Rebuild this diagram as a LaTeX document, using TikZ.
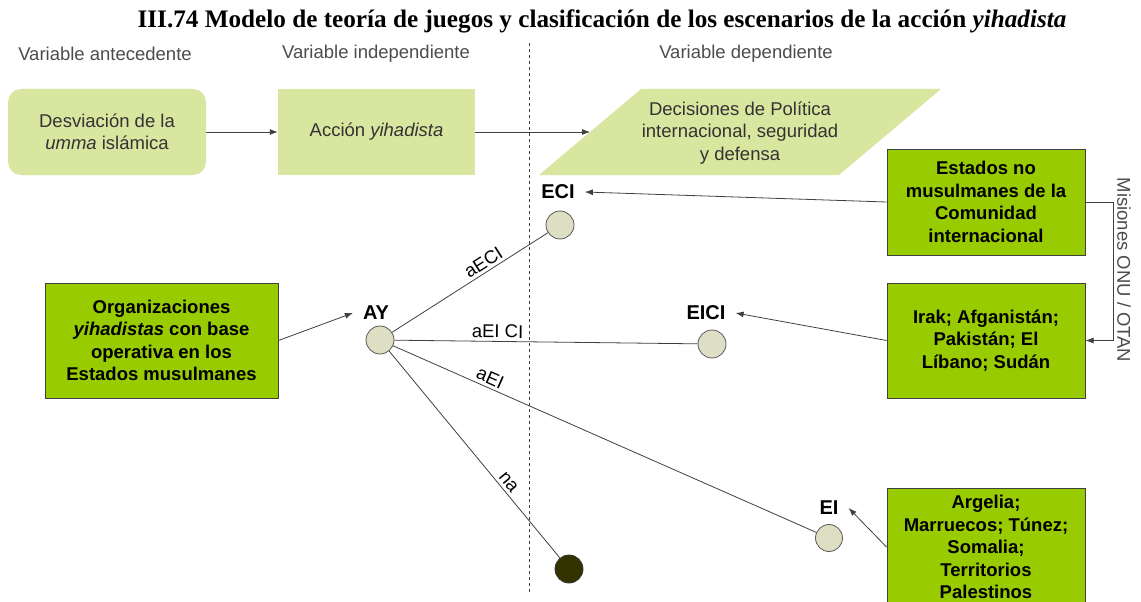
\documentclass[tikz,border=0pt]{standalone}
\usepackage{fontspec}
\setmainfont{Liberation Sans}
\newfontfamily\titlefont{Liberation Serif}
\usetikzlibrary{arrows.meta}
\definecolor{lightgreen}{RGB}{216,230,160}
\definecolor{brightgreen}{RGB}{153,204,0}
\definecolor{circfill}{RGB}{222,222,196}
\definecolor{darkcirc}{RGB}{51,51,0}
\definecolor{linegray}{RGB}{64,64,64}
\begin{document}
\begin{tikzpicture}[x=1pt,y=-1pt,
  every node/.style={font=\fontsize{18.5}{22.5}\selectfont},
  lbox/.style={fill=lightgreen, align=center, text=black!80, inner sep=0pt},
  gbox/.style={fill=brightgreen, draw=linegray, line width=1pt, align=center,
    font=\bfseries\fontsize{18.5}{22.5}\selectfont, inner sep=0pt},
  hdr/.style={text=black!70},
  state/.style={circle, draw=black!65, fill=circfill, line width=0.8pt,
    minimum size=28pt, inner sep=0pt},
  slabel/.style={font=\bfseries\fontsize{20}{24}\selectfont, inner xsep=10pt, inner ysep=2pt},
  elabel/.style={font=\fontsize{18.5}{22}\selectfont, sloped, inner sep=3pt},
  conn/.style={draw=linegray, line width=0.8pt},
  arr/.style={conn, -{Latex[length=8pt,width=6pt]}},
]
\useasboundingbox (0,0) rectangle (1141,602);

% title
\node (title) at (602,21) {\titlefont\bfseries\fontsize{25.2}{30}\selectfont III.74 Modelo de teoría de juegos y clasificación de los escenarios de la acción \textit{yihadista}};

% headers
\node[hdr] (h1) at (105,54) {Variable antecedente};
\node[hdr] (h2) at (376,54) {Variable independiente};
\node[hdr] (h3) at (746,54) {Variable dependiente};

% dashed separator
\coordinate (dtop) at (529,43);
\coordinate (dbot) at (529,594);
\draw[linegray, line width=0.7pt, dashed] (dtop) -- (dbot);

% top row
\node[lbox, rounded corners=13pt, minimum width=198pt, minimum height=86pt] (ant) at (107,132)
  {Desviación de la\\\emph{umma} islámica};
\node[lbox, minimum width=197pt, minimum height=86pt] (ind) at (376.5,132)
  {Acción \emph{yihadista}};
\fill[lightgreen] (539,175) -- (641,89) -- (941,89) -- (839,175) -- cycle;
\node[align=center, text=black!80] (dec) at (740,133)
  {Decisiones de Política\\internacional, seguridad\\y defensa};
\coordinate (decin) at (590,132);
\draw[arr] (ant) -- (ind);
\draw[arr] (ind) -- (decin);

% green boxes
\node[gbox, minimum width=233pt, minimum height=115pt] (org) at (161.5,340.5)
  {Organizaciones\\\emph{yihadistas} con base\\operativa en los\\Estados musulmanes};
\node[gbox, minimum width=198pt, minimum height=106pt] (est) at (986,202)
  {Estados no\\musulmanes de la\\Comunidad\\internacional};
\node[gbox, minimum width=198pt, minimum height=115pt] (irak) at (986,340.5)
  {Irak; Afganistán;\\Pakistán; El\\Líbano; Sudán};
\node[gbox, minimum width=198pt, minimum height=118pt] (arg) at (986,547)
  {Argelia;\\Marruecos; Túnez;\\Somalia;\\Territorios\\Palestinos};

% states
\node[state] (ay) at (380,340) {};
\node[state] (eci) at (560,225) {};
\node[state] (eici) at (712,344) {};
\node[state, minimum size=27pt] (ei) at (829,538) {};
\node[state, fill=darkcirc, draw=black!80] (na) at (569,569) {};

% state labels
\node[slabel] (ayl) at (376,313) {AY};
\node[slabel] (ecil) at (558,192) {ECI};
\node[slabel] (eicil) at (706,313) {EICI};
\node[slabel] (eil) at (829,508) {EI};

% game tree edges
\draw[conn] (ay) -- (eci) node[elabel, pos=0.62, above] {aECI};
\draw[conn] (ay) -- (eici) node[elabel, pos=0.34, above] {aEI CI};
\draw[conn] (ay) -- (ei) node[elabel, pos=0.22, above] {aEI};
\draw[conn] (ay) -- (na) node[elabel, pos=0.66, above] {na};

% arrows from boxes
\draw[arr] (org.east) -- (ayl.west);
\draw[arr] (est.west) -- (ecil.east);
\draw[arr] (irak.west) -- (eicil.east);
\draw[arr] (arg.west) -- (eil.east);
\draw[arr] (est.east) -- ++(28,0) |- (irak.east);
\node[hdr, rotate=-90] (mis) at (1124,270) {Misiones ONU / OTAN};
\end{tikzpicture}
\end{document}
